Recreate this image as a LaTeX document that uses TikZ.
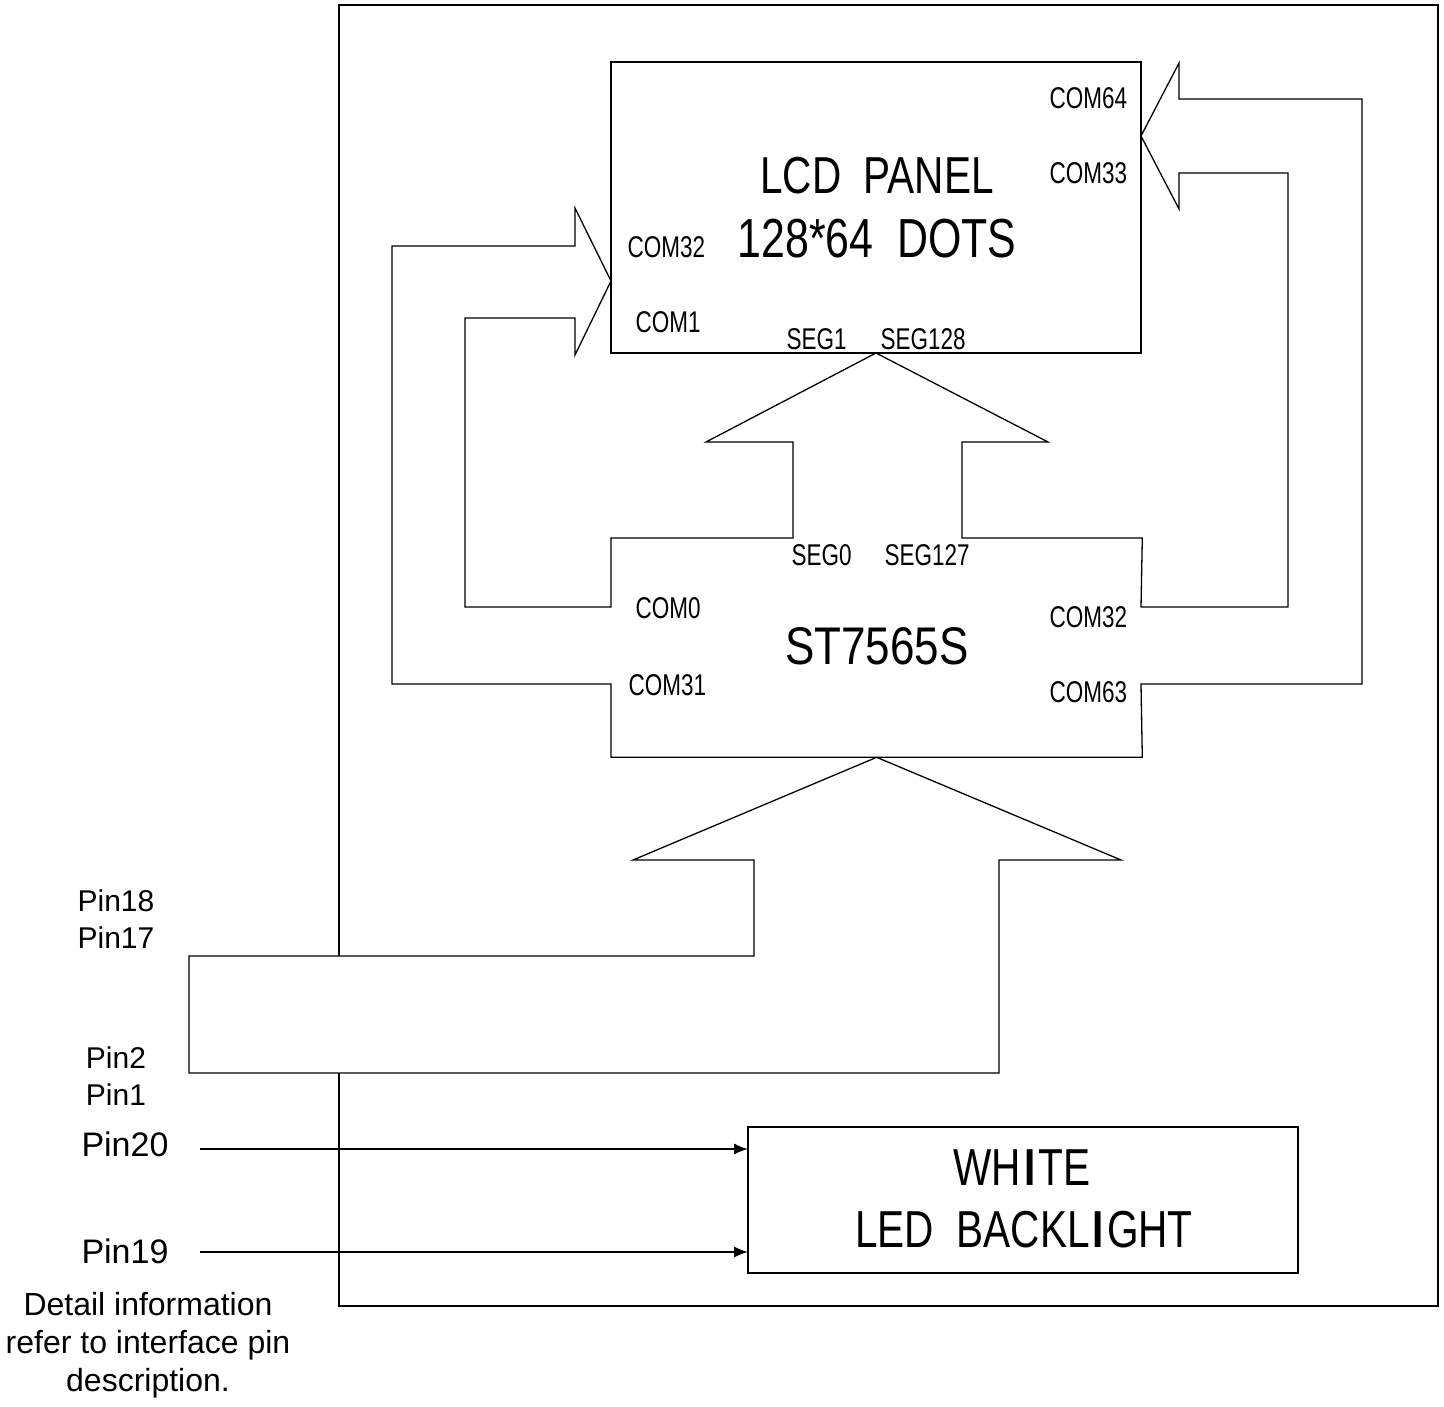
\documentclass[tikz,border=0pt]{standalone}
\usepackage{fontspec}
\setmainfont{Liberation Sans}
\newfontfamily\nar[FakeStretch=0.75]{Liberation Sans}
\newfontfamily\narm[FakeStretch=0.78]{Liberation Sans}
\newfontfamily\narb[FakeStretch=0.83]{Liberation Sans}
\usetikzlibrary{arrows.meta}
\tikzset{
  box/.style={draw, inner sep=0pt, outer sep=0pt},
  lbl/.style={font=\nar\fontsize{30}{30}\selectfont, inner sep=0pt, anchor=base west},
  big/.style={font=\narm\fontsize{52}{52}\selectfont, inner sep=0pt, anchor=base},
  pin/.style={font=\fontsize{30}{30}\selectfont, inner sep=0pt, anchor=base},
  note/.style={font=\fontsize{32}{32}\selectfont, inner sep=0pt, anchor=base},
  arr/.style={-{Latex[length=14pt,width=11pt]}},
}
\newcommand{\boldI}{\hspace{3pt}\textbf{I}\hspace{3pt}}
\begin{document}
\begin{tikzpicture}[x=1pt,y=-1pt,line width=1.3pt]
\useasboundingbox (0,0) rectangle (1444,1407);
% outer frame
\draw (339,5) rectangle (1438,1306);
% LCD panel
\node[box, minimum width=530pt, minimum height=291pt, anchor=north west] (lcd) at (611,62) {};
% driver area (outline drawn with the bus arrows)
\node[inner sep=0pt, minimum width=530pt, minimum height=218pt, anchor=north west] (drv) at (611,538) {};
% driver outline with COM and SEG bus arrows
\draw[line join=miter]
  (drv.north west) -- (793,538) -- (793,442) -- (706,442) -- (lcd.south)
  -- (1048,442) -- (962,442) -- (962,538) -- (drv.north east)
  -- (1141,607) -- (1288,607) -- (1288,173) -- (1179,173) -- (1179,209)
  -- (1141,136) -- (1179,63) -- (1179,99) -- (1362,99) -- (1362,684)
  -- (1141,684) -- (drv.south east) -- (drv.south west)
  -- (611,684) -- (392,684) -- (392,246) -- (575,246) -- (575,208)
  -- (611,281) -- (575,355) -- (575,318) -- (465,318) -- (465,607)
  -- (611,607) -- cycle;
% interface bus arrow
\filldraw[fill=white, line join=miter]
  (189,956) -- (754,956) -- (754,860) -- (633,860) -- (drv.south)
  -- (1121,860) -- (999,860) -- (999,1073) -- (189,1073) -- cycle;
% backlight
\node[box, minimum width=550pt, minimum height=146pt, anchor=north west] (bl) at (748,1127) {};
\node[big] (w1) at (1022,1185) {WH\boldI TE};
\node[big] (w2) at (1024,1247) {LED\ \ BACKL\boldI GHT};
% LCD texts
\node[big] (t1) at (877,194) {LCD\ \ PANEL};
\node[big, font=\narm\fontsize{55}{55}\selectfont] (t2) at (877,258) {128*64\ \ DOTS};
\node[lbl] (c64) at (1049,109) {COM64};
\node[lbl] (c33) at (1049,184) {COM33};
\node[lbl] (c32a) at (627,258) {COM32};
\node[lbl] (c1) at (635,332) {COM1};
\node[lbl] (s1) at (786,349) {SEG1};
\node[lbl] (s128) at (880,349) {SEG128};
% driver texts
\node[lbl] (s0) at (791,565) {SEG0};
\node[lbl] (s127) at (884,565) {SEG127};
\node[lbl] (c0) at (635,618) {COM0};
\node[lbl] (c31) at (628,695) {COM31};
\node[lbl] (c32b) at (1049,627) {COM32};
\node[lbl] (c63) at (1049,702) {COM63};
\node[font=\narb\fontsize{53}{53}\selectfont, inner sep=0pt, anchor=base] (chip) at (877,664) {ST7565S};
% pins
\node[pin] (p18) at (116,911) {Pin18};
\node[pin] (p17) at (116,948) {Pin17};
\node[pin] (p2) at (116,1068) {Pin2};
\node[pin] (p1) at (116,1105) {Pin1};
\node[note, font=\fontsize{34}{34}\selectfont] (p20) at (125,1156) {Pin20};
\node[note, font=\fontsize{34}{34}\selectfont] (p19) at (125,1263) {Pin19};
\coordinate (a20) at (200,1149);
\coordinate (a19) at (200,1252);
\draw[arr] (a20) -- (a20 -| bl.west);
\draw[arr] (a19) -- (a19 -| bl.west);
\node[note] (n1) at (148,1315) {Detail information};
\node[note] (n2) at (148,1353) {refer to interface pin};
\node[note] (n3) at (148,1391) {description.};
\end{tikzpicture}
\end{document}
